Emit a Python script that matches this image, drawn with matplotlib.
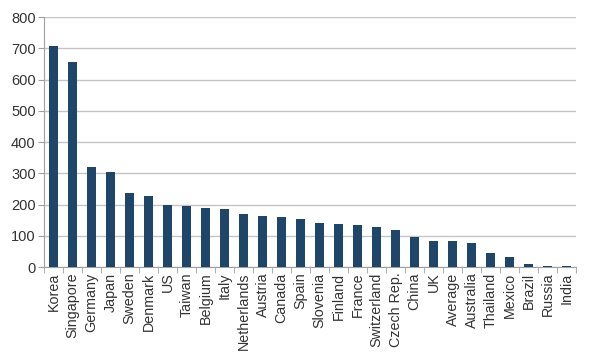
import matplotlib
matplotlib.use("Agg")
import matplotlib.pyplot as plt
import numpy as np

countries = ["Korea", "Singapore", "Germany", "Japan", "Sweden", "Denmark", "US",
             "Taiwan", "Belgium", "Italy", "Netherlands", "Austria", "Canada", "Spain",
             "Slovenia", "Finland", "France", "Switzerland", "Czech Rep.", "China", "UK",
             "Average", "Australia", "Thailand", "Mexico", "Brazil", "Russia", "India"]
values = [708, 657, 319, 305, 238, 227, 197, 194, 189, 187, 170, 164, 159, 155,
          142, 137, 134, 127, 117, 95, 83, 83, 77, 45, 33, 10, 2, 2]
yticks = [0, 100, 200, 300, 400, 500, 600, 700, 800]

plt.rcParams["font.family"] = ["Liberation Sans", "DejaVu Sans"]

fig = plt.figure(figsize=(5.9, 3.57), dpi=100)
ax = fig.add_axes([0.0746, 0.252, 0.902, 0.700])

x = np.arange(len(countries))
ax.bar(x, values, width=0.5, color="#1f4568", zorder=3)

ax.set_xlim(-0.5, len(countries) - 0.5)
ax.set_ylim(0, 800)
ax.set_yticks(yticks)
ax.tick_params(axis="y", length=4, color="#a0a0a0", labelsize=10.5, pad=2,
               labelcolor="#333333")
ax.grid(True, axis="y", color="#c4c4c4", lw=1.0, zorder=0)

# category labels centred, tick marks between categories (Excel style)
ax.set_xticks(x)
ax.set_xticklabels(countries, rotation=90, fontsize=10.3, color="#333333")
ax.tick_params(axis="x", length=0, pad=4)
ax.set_xticks(np.arange(-0.5, len(countries)), minor=True)
ax.tick_params(axis="x", which="minor", length=4, color="#a0a0a0")

for s in ["top", "right"]:
    ax.spines[s].set_visible(False)
for s in ["left", "bottom"]:
    ax.spines[s].set_color("#a0a0a0")

fig.savefig("out.png", dpi=100)
